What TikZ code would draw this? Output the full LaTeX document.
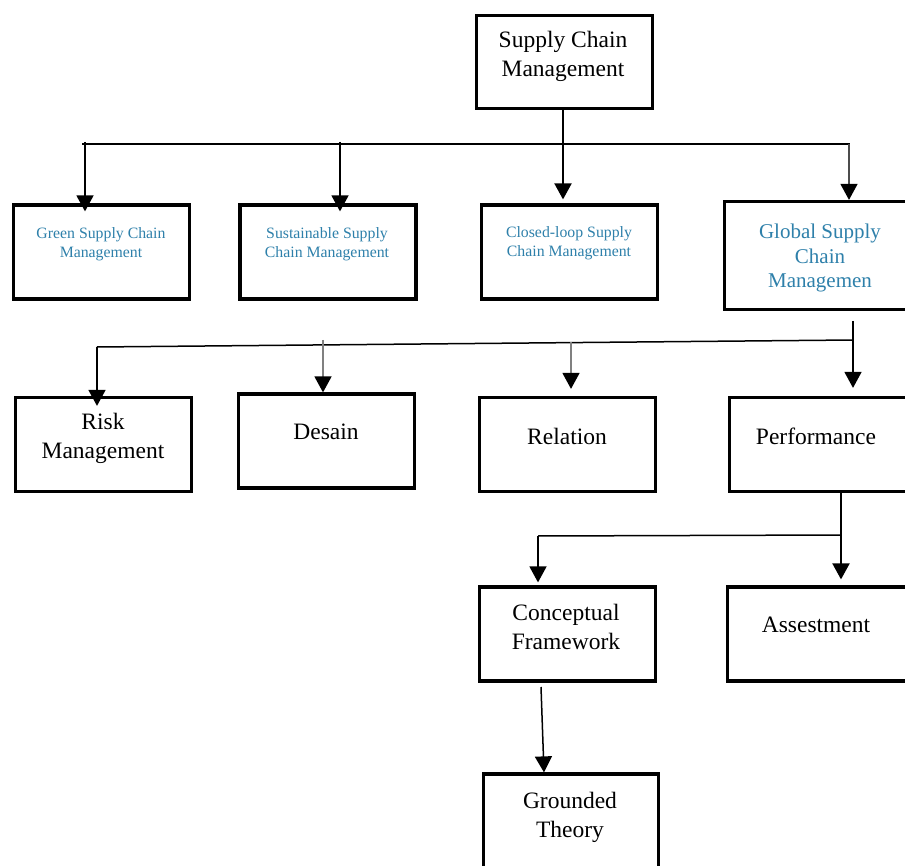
\documentclass[tikz,border=0pt]{standalone}
\usepackage{fontspec}
\setmainfont{Liberation Serif}
\usetikzlibrary{arrows.meta}
\definecolor{chainblue}{RGB}{46,128,170}

\begin{document}
\begin{tikzpicture}
  [x=1pt,y=-1pt,
   box/.style={draw,line width=3.2pt,inner sep=0pt,minimum width=176pt,minimum height=94pt},
   txt/.style={align=center,inner sep=0pt,font=\fontsize{23.5}{29}\selectfont},
   bluetxt/.style={txt,text=chainblue,font=\fontsize{15.8}{19}\selectfont},
   link/.style={line width=1.5pt},
   arr/.style={link,-{Triangle[width=17pt,length=16pt,black]}}]
  \useasboundingbox (0,0) rectangle (905,866);

  % boxes
  \node[box,minimum height=93pt] (scm) at (564.5,62) {};
  \node[box] (green)   at (101.5,252) {};
  \node[box] (sust)    at (328,252)   {};
  \node[box] (closed)  at (569.5,252) {};
  \node[box,minimum width=186pt,minimum height=108pt] (global) at (817.5,255.5) {};
  \node[box] (risk)    at (103.5,444.5) {};
  \node[box] (desain)  at (326.5,441)   {};
  \node[box] (relation) at (567.5,444.5) {};
  \node[box,minimum width=181pt] (perf)   at (820,444.5) {};
  \node[box] (concept) at (567.5,634) {};
  \node[box,minimum width=183pt] (assest) at (819,634) {};
  \node[box,minimum width=175pt,minimum height=96pt] (ground) at (571,822) {};

  % texts
  \node[txt] (t-scm) at (563,56) {Supply Chain\\Management};
  \node[bluetxt] (t-green)  at (101,244)  {Green Supply Chain\\Management};
  \node[bluetxt] (t-sust)   at (327,244)  {Sustainable Supply\\Chain Management};
  \node[bluetxt] (t-closed) at (569,243)  {Closed-loop Supply\\Chain Management};
  \node[txt,text=chainblue,font=\fontsize{21}{24.5}\selectfont] (t-global) at (820,258) {Global Supply\\Chain\\Managemen};
  \node[txt] (t-risk)     at (103,438) {Risk\\Management};
  \node[txt] (t-desain)   at (326,432) {Desain};
  \node[txt] (t-relation) at (567,436) {Relation};
  \node[txt] (t-perf)     at (816,436) {Performance};
  \node[txt] (t-concept)  at (566,627) {Conceptual\\Framework};
  \node[txt] (t-assest)   at (816,625) {Assestment};
  \node[txt] (t-ground)   at (570,817) {Grounded\\Theory};

  % first level
  \coordinate (a0) at (563,144);
  \coordinate (a1) at (82,144);
  \coordinate (a4) at (849,144);
  \coordinate (g1) at (85,144);
  \coordinate (g2) at (340,144);
  \draw[link] (a1) -- (a4) -- ++(0,1);
  \draw[arr,line width=2pt] (scm.south -| a0) -- (a0 |- closed.north) [shorten >=4pt];
  \draw[arr] ([yshift=2pt]g1) -- (g1 |- green.north) [shorten >=-8pt];
  \draw[arr] ([yshift=2pt]g2) -- (g2 |- sust.north) [shorten >=-8pt];
  \draw[arr,black!70] (a4) -- (a4 |- global.north);

  % second level
  \coordinate (b0) at (853,321);
  \coordinate (b1) at (97,347);
  \coordinate (b2) at (323,340);
  \coordinate (b3) at (571,342);
  \coordinate (b4) at (853,340);
  \draw[link] (b1) -- (b4);
  \draw[arr] (b0) -- (b0 |- perf.north) [shorten >=8pt];
  \draw[arr] (b1) -- (b1 |- risk.north) [shorten >=-10pt];
  \draw[arr,gray] (b2) -- (b2 |- desain.north);
  \draw[arr,gray] (b3) -- (b3 |- relation.north) [shorten >=7pt];

  % third level
  \coordinate (c1) at (538,536);
  \coordinate (c2) at (841,535);
  \draw[link] (c1) -- (c2);
  \draw[arr,line width=2pt] (perf.south -| c2) -- (c2 |- assest.north) [shorten >=6pt];
  \draw[arr] (c1) -- (c1 |- concept.north) [shorten >=3pt];

  % fourth level
  \coordinate (d0) at (541,687);
  \draw[arr] (d0) -- ([xshift=-27pt]ground.north);
\end{tikzpicture}
\end{document}
